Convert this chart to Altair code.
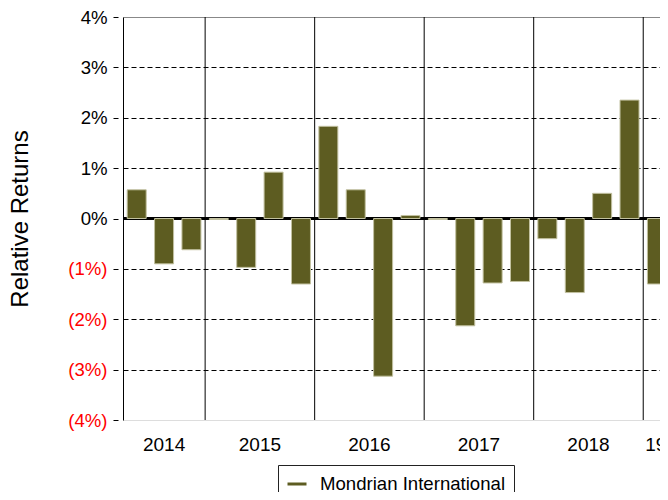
import altair as alt
import pandas as pd

# ---- data ----
quarters = ["2014 Q2", "2014 Q3", "2014 Q4",
            "2015 Q1", "2015 Q2", "2015 Q3", "2015 Q4",
            "2016 Q1", "2016 Q2", "2016 Q3", "2016 Q4",
            "2017 Q1", "2017 Q2", "2017 Q3", "2017 Q4",
            "2018 Q1", "2018 Q2", "2018 Q3", "2018 Q4",
            "2019 Q1"]
returns = [0.57, -0.90, -0.62,
           -0.02, -0.97, 0.92, -1.30,
           1.83, 0.57, -3.13, 0.06,
           -0.02, -2.13, -1.28, -1.25,
           -0.40, -1.47, 0.50, 2.35,
           -1.30]
series_name = "Mondrian International"
y_ticks = [-4, -3, -2, -1, 0, 1, 2, 3, 4]
partial_year_label = "19"

FONT = "Liberation Sans"
BAR = "#5d5c21"

bars_df = pd.DataFrame({
    "quarter": quarters,
    "pos": [i + 0.5 for i in range(len(quarters))],
    "ret": returns,
    "series": series_name,
})

years = [q.split()[0] for q in quarters]
year_order = list(dict.fromkeys(years))
spans = {y: (years.index(y), len(years) - years[::-1].index(y)) for y in year_order}
full_years = year_order[:-1]
labels_df = pd.DataFrame({
    "label": full_years,
    "center": [(spans[y][0] + spans[y][1]) / 2 for y in full_years],
})
bounds_df = pd.DataFrame({"b": [spans[y][0] for y in year_order[1:]]})
partial_df = pd.DataFrame({"label": [partial_year_label], "x": [spans[year_order[-1]][0]]})

W = 537
H = 403
QW = 27.38
x_dom = [0, W / QW]
xscale = alt.Scale(domain=x_dom, nice=False, zero=False, padding=0)
yscale = alt.Scale(domain=[-4, 4], nice=False, padding=0)

bars = alt.Chart(bars_df).mark_bar(
    size=19, stroke="#c2c1a0", strokeWidth=1, clip=True
).encode(
    x=alt.X("pos:Q", scale=xscale, title=None,
            axis=alt.Axis(values=list(range(0, len(quarters))), labels=False,
                          tickSize=10, tickColor="#000", domainColor="#000",
                          grid=False, ticks=True)),
    y=alt.Y("ret:Q", scale=yscale, title="Relative Returns",
            axis=alt.Axis(
                values=y_ticks,
                labelExpr="datum.value < 0 ? '(' + abs(datum.value) + '%)' : datum.value + '%'",
                labelColor={"condition": {"test": "datum.value < 0", "value": "#ff0000"}, "value": "#000000"},
                labelFontSize=18.6, labelFont=FONT, labelPadding=6,
                tickSize=10, tickColor="#000", tickDash=[0, 5, 5],
                domainColor="#000",
                grid=True,
                gridColor={"condition": {"test": "datum.value == 4", "value": "#888888"}, "value": "#000000"},
                gridDash={"condition": {"test": "datum.value == 4", "value": []}, "value": [5, 3]},
                gridOpacity={"condition": {"test": "datum.value == 0 || datum.value == -4", "value": 0}, "value": 1},
                titleFontSize=24, titleFont=FONT, titleFontWeight="normal", titleColor="#000",
                titlePadding=35,
            )),
    color=alt.Color("series:N", scale=alt.Scale(range=[BAR]),
                    legend=alt.Legend(title=None, orient="none", legendX=155, legendY=448,
                                      symbolType="stroke", symbolStrokeColor=BAR,
                                      symbolStrokeWidth=3, symbolSize=361,
                                      labelFontSize=18.6, labelFont=FONT, labelColor="#000",
                                      labelLimit=0, labelOffset=12,
                                      strokeColor="#222", padding=8,
                                      fillColor="#fff")),
)

zero = alt.Chart(bars_df).mark_rule(color="#000", strokeWidth=2).encode(
    y=alt.datum(0, scale=yscale)
)

ylines = alt.Chart(bounds_df).mark_rule(color="#000", strokeWidth=1).encode(
    x=alt.X("b:Q", scale=xscale, axis=None)
)

ylabels = alt.Chart(labels_df).mark_text(
    fontSize=19, font=FONT, color="#000", baseline="middle", align="center"
).encode(
    x=alt.X("center:Q", scale=xscale, axis=None),
    y=alt.value(H + 25),
    text="label:N",
)

plabel = alt.Chart(partial_df).mark_text(
    fontSize=19, font=FONT, color="#000", baseline="middle", align="left", dx=2
).encode(
    x=alt.X("x:Q", scale=xscale, axis=None),
    y=alt.value(H + 25),
    text="label:N",
)

chart = alt.layer(zero, bars, ylines, ylabels, plabel).properties(
    width=W, height=H,
    autosize=alt.AutoSizeParams(type="none"),
    padding={"left": 115, "top": 9, "right": 0, "bottom": 72},
).configure_view(stroke=None).configure(font=FONT)

chart.save("out.html", embed_options={"renderer": "svg", "actions": False})
